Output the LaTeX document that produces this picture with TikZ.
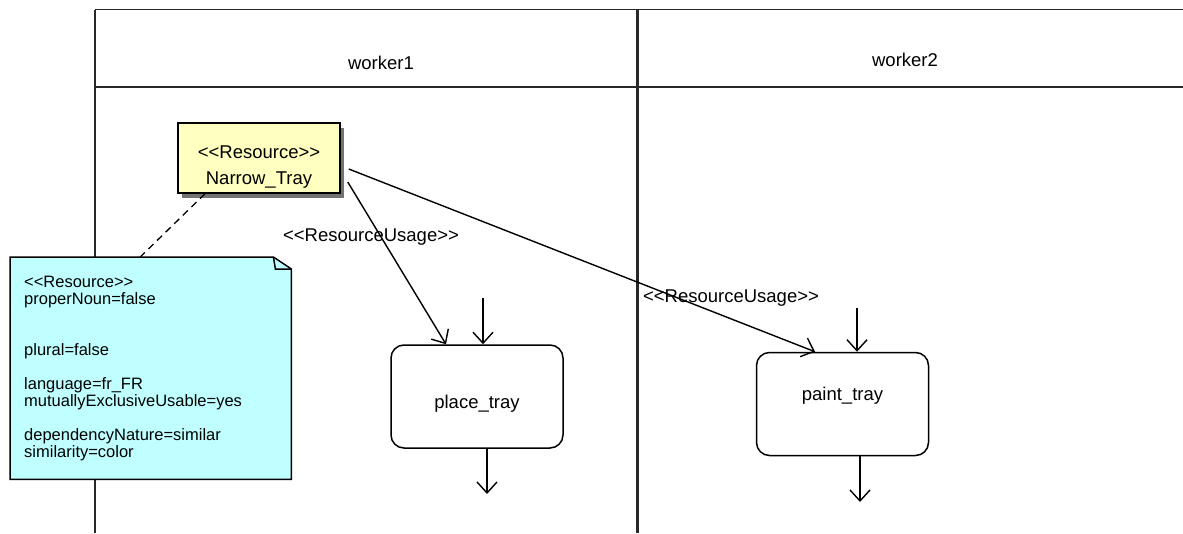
\documentclass[tikz,border=0pt]{standalone}
\usepackage{fontspec}
\setmainfont{Liberation Sans}[Ligatures=TeXOff]
\usetikzlibrary{arrows.meta, positioning, shadows}
\definecolor{resyellow}{RGB}{255,255,192}
\definecolor{notecyan}{RGB}{192,255,255}
\definecolor{lanegray}{RGB}{40,40,40}

\begin{document}
\begin{tikzpicture}[
    x=1pt, y=-1pt,
    lane/.style={draw=lanegray, line width=1.6pt},
    lanetitle/.style={font=\fontsize{18.5}{22}\selectfont, inner sep=0pt},
    resource/.style={rectangle, draw=black, line width=1.5pt, fill=resyellow, align=center, minimum width=162pt, minimum height=70pt, inner sep=2pt, font=\fontsize{18.5}{26}\selectfont, drop shadow={shadow xshift=4pt, shadow yshift=-5pt, fill=black!55, opacity=1}},
    notebox/.style={rectangle, fill=notecyan, align=left, text width=253pt, inner xsep=14pt, inner ysep=0pt, minimum width=281pt, minimum height=222pt, font=\fontsize{16.5}{17}\selectfont, anchor=north west},
    action/.style={rectangle, draw=black, line width=1.5pt, rounded corners=13pt, minimum width=172pt, minimum height=103pt, inner sep=2pt, font=\fontsize{18.5}{22}\selectfont},
    flow/.style={draw, line width=1.4pt, -{Straight Barb[length=11pt, width=20pt]}},
    usage/.style={font=\fontsize{18.5}{22}\selectfont, inner sep=0pt}
]
\useasboundingbox (0,0) rectangle (1183,533);

% Swimlanes
\draw[lane] (95,9.5) -- (1183,9.5);
\draw[lane] (95,87) -- (1183,87);
\draw[lane] (95,9.5) -- (95,533);
\draw[lane, line width=3pt] (637.5,9.5) -- (637.5,533);

\node[lanetitle] (w1) at (381,63) {worker1};
\node[lanetitle] (w2) at (905,60) {worker2};

% Nodes
\node[resource, text height=57pt, text depth=4pt] (tray) at (259,158) {<<Resource>>\\Narrow\_Tray};

\node[notebox] (note) at (10,257) {<<Resource>>\\
properNoun=false\\[34pt]
plural=false\\[17pt]
language=fr\_FR\\
mutuallyExclusiveUsable=yes\\[17pt]
dependencyNature=similar\\
similarity=color};
\fill[white] ([xshift=-18pt]note.north east) -- (note.north east) -- ([yshift=-12pt]note.north east) -- cycle;
\draw[line width=1.5pt] (note.north west) -- ([xshift=-18pt]note.north east) -- ([yshift=-12pt]note.north east) -- (note.south east) -- (note.south west) -- cycle;
\draw[line width=1.5pt] ([xshift=-18pt]note.north east) -- ([xshift=-16pt, yshift=-12pt]note.north east) -- ([yshift=-12pt]note.north east);

\node[action, text height=28.4pt, text depth=4pt] (place) at (477,396.5) {place\_tray};
\node[action, text height=13.5pt, text depth=20pt] (paint) at (842.5,404) {paint\_tray};

% Control flow
\coordinate (placein) at (483,298);
\coordinate (placeout) at (487,494);
\coordinate (paintin) at (857,308);
\coordinate (paintout) at (860,502);
\draw[flow] (placein) -- (placein |- place.north);
\draw[flow] (place.south -| placeout) -- (placeout);
\draw[flow] (paintin) -- (paintin |- paint.north);
\draw[flow] (paint.south -| paintout) -- (paintout);

% Resource usage
\draw[dash pattern=on 7pt off 5pt, line width=1.3pt] ([xshift=-54pt]tray.south) -- ([xshift=-10.5pt]note.north);
\draw[flow] ([shift={(7,24)}]tray.east) -- ([xshift=-31pt]place.north);
\draw[flow] ([shift={(8,11)}]tray.east) -- ([xshift=-27.5pt]paint.north);
\node[usage] (u1) at (371,237) {<<ResourceUsage>>};
\node[usage] (u2) at (731,298) {<<ResourceUsage>>};

\end{tikzpicture}
\end{document}
